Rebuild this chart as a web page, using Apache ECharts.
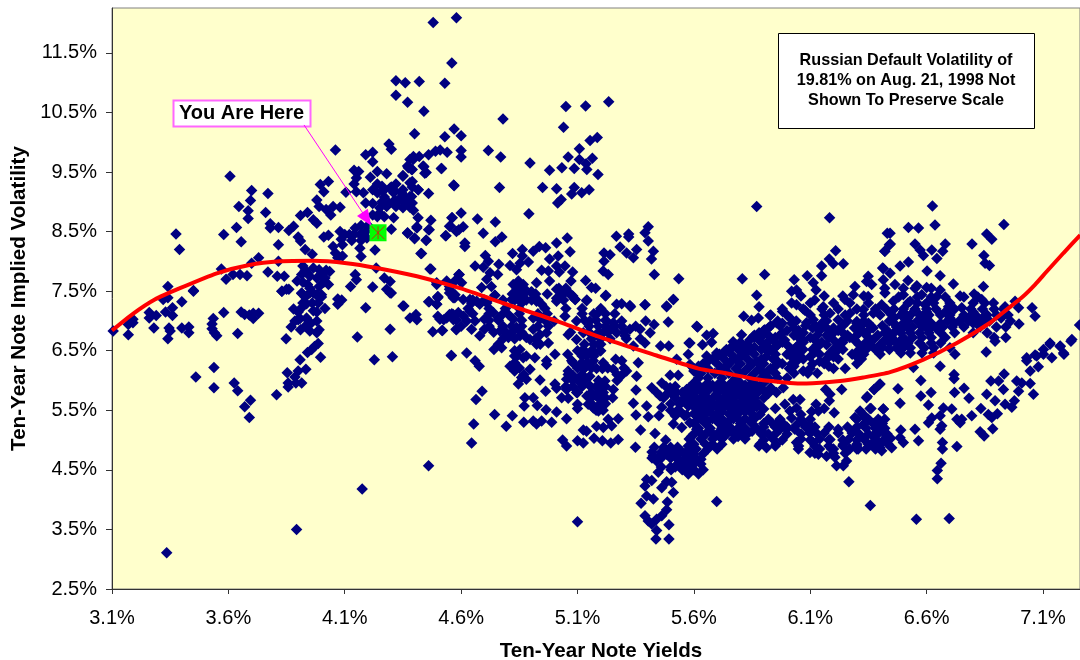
<!DOCTYPE html>
<html>
<head>
<meta charset="utf-8">
<style>
  html, body { margin: 0; padding: 0; background: #fff; }
  #main { width: 1080px; height: 660px; }
</style>
</head>
<body>
<div id="main"></div>
<script src="https://cdn.jsdelivr.net/npm/echarts@6/dist/echarts.min.js"></script>
<script>
// [yield %, implied vol %], grouped by region
const lowYieldPoints = [
[3.105,6.83],[3.17,6.77],[3.17,6.94],[3.19,6.97],[3.19,7.03],[3.26,7.14],[3.29,7.09],[3.26,7.05],[3.28,6.88],[3.32,7.36],[3.34,7.39],[3.33,7.15],[3.36,7.22],[3.36,7.09],[3.40,7.32],[3.345,6.88],[3.35,6.83],[3.34,6.7],[3.40,6.88],[3.43,6.9],[3.43,6.8],[3.45,7.5],
[3.58,7.14],[3.535,7.04],[3.53,6.95],[3.53,6.87],[3.54,6.8],[3.55,6.75],[3.64,6.79],[3.655,7.15],[3.67,7.11],[3.707,7.13],[3.707,7.04],[3.73,7.13],[3.69,7.1],
[3.538,6.22],[3.46,6.06],[3.538,5.88],[3.625,5.96],[3.64,5.83],[3.695,5.67],[3.67,5.56],[3.69,5.38],
[3.807,5.76],[3.848,6.7],[3.87,6.9],[3.886,7.0],[3.908,7.04],[3.88,7.2],[3.915,7.22],[3.936,7.29],[3.965,7.17],[4.015,7.21],[3.936,7.05],[3.98,7.0],[3.93,6.91],[3.95,6.94],[3.95,6.83],[3.98,6.8],[3.94,6.47],[3.958,6.52],[3.97,6.57],[3.986,6.62],[3.996,6.39],[3.908,6.35],[3.933,6.19],[3.90,6.16],[3.853,6.13],[3.886,6.06],[3.857,5.96],[3.857,5.89],[3.89,5.96],[3.915,5.96],
[3.83,7.5],[3.85,7.53],[3.915,7.46],[3.95,7.47],[3.98,7.44],[4.0,7.44],[3.986,7.3],[4.07,7.37],[4.087,7.35],[4.07,7.28],[4.19,7.22],[4.154,6.73],[4.35,7.25],[4.295,7.47],[4.46,7.32],[4.5,7.4],[4.495,7.28],[4.38,7.05],[4.406,7.11],[4.41,7.02],[4.295,6.86],[4.305,6.4],[4.227,6.35],[4.478,6.82],[4.518,6.84],[4.58,6.85],[4.558,6.42],[4.5,7.08],[4.525,7.02],[4.55,7.11],[4.567,7.02],[4.588,7.14],[4.574,7.44],[4.55,7.47],
[4.46,4.57],[4.175,4.18],[3.893,3.5],[3.335,3.11]
];
const upperLeftPoints = [
[4.48,12.01],[4.58,12.09],[4.56,11.33],[4.32,11.03],[4.36,11.0],[4.42,11.02],[4.53,10.99],[4.32,10.79],[4.37,10.67],[4.44,10.52],[4.40,10.14],[4.53,10.09],[4.57,10.22],[4.6,10.11],[4.06,9.87],[4.29,9.97],[4.30,9.88],[4.22,9.83],[4.19,9.79],[4.22,9.67],
[4.395,9.76],[4.38,9.71],[4.42,9.76],[4.46,9.79],[4.49,9.85],[4.51,9.87],[4.54,9.83],[4.37,9.6],[4.39,9.54],[4.44,9.59],[4.45,9.49],[4.515,9.56],[4.57,9.27],[4.46,9.14],
[4.14,9.53],[4.16,9.51],[4.24,9.51],[4.21,9.41],[4.28,9.47],[4.15,9.4],[4.35,9.44],[4.14,9.3],[4.105,9.16],[4.15,9.17],[4.18,9.15],
[3.607,9.43],[3.70,9.19],[3.77,9.14],[3.695,9.02],[3.645,8.92],[3.685,8.85],[3.76,8.82],[3.685,8.72],[3.995,9.29],[4.03,9.34],[4.01,9.17],[3.98,9.03],[3.99,8.92],
[4.02,8.87],[4.05,8.92],[4.08,8.91],[4.04,8.78],[3.91,8.77],[3.94,8.82],[3.965,8.7],[3.98,8.64],
[3.78,8.63],[3.78,8.56],[3.815,8.57],[3.88,8.59],[3.86,8.52],[3.635,8.57],[3.58,8.45],[3.375,8.46],[3.39,8.2],[3.655,8.33],
[3.815,8.28],[3.90,8.41],[3.91,8.34],[4.01,8.41],[4.03,8.44],[4.08,8.5],[4.10,8.45],[4.085,8.37],[4.145,8.56],[4.165,8.45],[4.19,8.5],[4.195,8.39],[4.09,8.28],[4.165,8.22],[4.17,8.08],
[4.23,8.19],[4.30,8.54],[4.37,8.48],[4.40,8.39],[4.45,8.35],[4.41,8.56],[4.46,8.53],[4.415,8.73],[4.47,8.69],[4.535,8.43],[4.55,8.59],[4.56,8.73],[4.59,8.53],
[4.43,8.13],[4.47,7.87],[3.93,8.2],[3.96,8.12],[4.05,8.25],[4.06,8.14],[4.09,8.09],[4.07,8.06],
[3.73,8.06],[3.70,7.97],[3.815,8.0],[3.57,7.87],[3.59,7.7],[3.62,7.78],[3.65,7.78],[3.68,7.76],[3.77,7.82],[3.81,7.75],[3.84,7.75],[3.34,7.58],[3.45,7.51],
[3.92,7.92],[3.965,7.89],[3.94,7.8],[3.915,7.78],[3.99,7.86],[4.035,7.83],[3.98,7.72],[4.015,7.72],[3.895,7.67],[3.94,7.61],[3.99,7.58],[4.03,7.61],[3.915,7.47],[3.965,7.47],[3.985,7.41],
[4.145,7.78],[4.15,7.69],[4.125,7.58],[4.22,7.57],[4.235,7.89],[4.27,7.72],[4.295,7.66],[4.28,7.53],[4.30,7.47],[3.83,7.5],[3.86,7.53],[4.50,7.41],[4.495,7.64],[4.55,7.58],[4.59,7.78],
[4.22,9.2],[4.26,9.26],[4.295,9.23],[4.265,9.18],[4.315,9.18],[4.35,9.2],[4.39,9.34],[4.415,9.2],[4.38,9.09],[4.345,9.09],[4.315,9.03],[4.33,9.0],[4.19,8.98],[4.22,8.97],[4.26,9.0],[4.28,8.92],[4.32,8.92],[4.36,9.0],[4.38,8.91],[4.395,8.86],[4.22,8.78],[4.25,8.81],[4.31,8.73],
[4.344,9.15],[4.38,9.32],[4.416,9.2],[4.387,9.09],[4.358,9.01],[4.35,9.43],[4.394,9.71],[4.373,9.57],[4.437,9.6],[4.444,9.48],[4.387,9.54]
];
const midUpperPoints = [
[4.78,10.39],[5.05,10.6],[5.135,10.61],[5.234,10.68],[5.04,10.25],[5.154,10.03],[5.185,10.08],[5.108,9.89],[5.06,9.75],[5.108,9.71],[5.164,9.73],[5.137,9.64],[5.14,9.54],[5.086,9.56],[5.033,9.57],[4.98,9.53],[5.188,9.46],[4.896,9.65],
[4.717,9.86],[4.77,9.75],[4.6,9.86],[4.6,9.75],[4.516,9.56],[4.568,9.28],[4.765,9.24],[4.95,9.24],[5.01,9.22],[5.086,9.24],[5.075,9.13],[5.118,9.15],[5.15,9.2],[5.03,9.04],[5.015,8.98],
[4.891,8.8],[4.6,8.81],[4.562,8.73],[4.67,8.71],[4.747,8.66],[4.41,8.58],[4.463,8.53],[4.555,8.59],[4.609,8.58],[4.58,8.5],[4.533,8.43],[4.695,8.47],[4.775,8.41],[4.747,8.33],[4.616,8.31],[4.616,8.25],[4.37,8.47],[4.40,8.38],[4.45,8.36],[4.427,8.13],[4.466,7.87],
[5.056,8.39],[5.01,8.31],[5.267,8.42],[5.32,8.46],[5.32,8.41],[5.404,8.58],[5.39,8.48],[5.404,8.34],[5.283,8.24],[5.311,8.14],[5.354,8.2],[5.34,8.06],[5.426,8.17],[5.418,8.04],[5.214,8.14],[5.24,8.11],[5.214,8.0],[5.21,7.84],[5.232,7.78],[5.43,7.78],[5.535,7.71],
[4.704,8.1],[4.717,8.0],[4.66,7.92],[4.695,7.9],[4.762,7.95],[4.821,8.13],[4.863,8.2],[4.863,8.09],[4.91,8.17],[4.936,8.25],[4.963,8.23],[5.068,8.16],[5.017,8.09],[4.98,8.04],[4.889,7.99],[4.853,7.97],[4.81,7.93],[4.838,7.86],[5.01,7.92],[5.046,7.92],[4.946,7.85],[4.975,7.84],[5.022,7.82],[5.079,7.82],[5.072,7.67],[4.98,7.67],[4.924,7.64],[5.135,7.68],[5.16,7.56],[5.178,7.55],[5.222,7.43],[5.139,7.34],[5.01,7.53],[5.04,7.5],[4.903,7.49],[5.075,7.42],[5.09,7.36],[5.01,7.38],
[4.824,7.61],[4.846,7.67],[4.867,7.61],[4.846,7.56],[4.86,7.47],[4.86,7.33],[4.817,7.36],[4.745,7.43],[4.903,7.35],[4.946,7.28],
[4.724,7.81],[4.757,7.78],[4.71,7.7],[4.73,7.58],[4.592,7.78],[4.573,7.67],[4.538,7.67],[4.495,7.61],[4.602,7.64],[4.688,7.56],[4.55,7.53],[4.566,7.39],[4.5,7.39],[4.463,7.32],[4.495,7.28],[4.354,7.25],[4.609,7.36],[4.667,7.33],[4.645,7.3],[4.71,7.3],
[5.268,7.28],[5.325,7.26],[5.39,7.27],[5.512,7.36],[5.483,7.25]
];
const midLowerPoints = [
[4.566,7.44],[4.573,7.39],[4.638,7.36],[4.68,7.28],[4.745,7.43],[4.71,7.33],[4.853,7.42],[4.9,7.48],[4.924,7.33],[4.86,7.3],[5.01,7.33],[5.03,7.47],[5.08,7.42],[5.09,7.36],[5.14,7.35],[5.22,7.42],[5.29,7.29],[5.328,7.24],[5.39,7.27],[5.483,7.24],[5.512,7.36],
[4.566,7.11],[4.538,7.05],[4.509,7.03],[4.52,6.84],[4.578,6.86],[4.61,7.08],[4.638,7.16],[4.66,7.0],[4.624,7.0],[4.645,6.86],[4.70,7.03],[4.70,6.86],[4.68,6.75],[4.738,7.14],[4.76,7.05],[4.803,7.11],[4.824,7.03],[4.817,6.91],[4.767,6.83],[4.795,6.8],[4.838,6.89],[4.774,6.55],[4.741,6.52],[4.803,6.72],[4.88,6.72],[4.853,6.75],[4.896,6.69],[4.91,6.86],[4.939,6.77],[4.975,6.91],[4.967,6.8],[4.924,6.61],[4.975,6.63],[4.939,7.03],[4.91,7.05],[5.0,7.0],[5.046,7.08],[5.096,7.0],[5.153,7.0],[5.19,7.14],[5.225,7.0],[5.254,6.97],[5.29,7.0],[5.24,6.86],[5.21,6.8],[5.268,6.8],[5.325,6.86],[5.304,6.75],[5.06,6.77],[5.096,6.69],[5.125,6.8],[5.19,6.61],[5.175,6.47],[5.197,6.5],[5.168,6.33],[5.182,6.2],[5.122,6.51],[5.003,6.44],[5.058,6.44],[5.075,6.33],[5.118,6.3],[5.125,6.19],[5.06,6.16],[5.082,6.08],[5.053,6.02],[5.104,5.99],[5.153,6.07],[5.218,5.99],[5.207,6.2],[5.254,6.19],[5.264,6.355],[5.29,6.33],[5.311,6.16],[5.29,6.09],[5.354,6.07],[5.361,6.3],[5.34,6.58],[5.369,6.86],[5.412,6.8],[5.39,6.63],[5.457,6.58],[5.492,6.58],[5.579,6.63],[5.429,6.94],[5.393,7.0],[5.49,6.98],[5.612,6.91],[5.576,6.44],[5.526,6.355],[5.583,6.27],[5.612,6.13],[5.533,6.09],[5.498,6.09],
[4.558,6.42],[4.624,6.46],[4.66,6.33],[4.678,6.24],[4.81,6.24],[4.83,6.16],[4.86,6.05],[4.88,6.02],[4.846,5.94],[4.853,6.52],[4.83,6.41],[4.867,6.38],[4.896,6.19],[4.917,6.38],[4.967,6.33],[4.967,6.27],[4.939,6.01],[5.003,5.94],[5.01,5.87],[4.963,5.82],[4.91,5.71],[4.874,5.71],[4.871,5.57],[4.927,5.58],[4.965,5.51],[4.69,5.82],[4.664,5.68],[4.744,5.43],[4.82,5.41],[4.654,5.27],[4.794,5.23],[4.869,5.3],[4.91,5.32],[4.924,5.27],[4.946,5.32],[4.989,5.3],[5.01,5.47],[5.053,5.36],[4.645,4.95],
[5.032,5.71],[5.06,5.7],[5.053,5.85],[5.096,5.8],[5.1,5.6],[5.1,5.53],[5.146,5.6],[5.168,5.54],[5.19,5.49],[5.14,5.74],[5.153,5.91],[5.197,5.91],[5.211,5.8],[5.182,5.74],[5.197,5.6],[5.254,5.85],[5.251,5.71],[5.34,5.62],[5.351,5.84],[5.351,5.42],[5.397,5.57],[5.404,5.39],[5.371,5.17],[5.433,5.11],[5.479,5.0],[5.349,4.88],
[5.275,5.36],[5.232,5.35],[5.247,5.24],[5.211,5.21],[5.182,5.23],[5.125,5.17],[5.139,5.15],[5.171,5.03],[5.207,4.99],[5.1,4.99],[5.125,4.95],[5.243,4.95],[5.275,5.01],[5.036,5.0],[5.053,4.9],
[5.419,5.88],[5.462,5.96],[5.498,5.88],[5.455,5.74],[5.483,5.77],[5.526,5.8],[5.569,5.85],[5.598,5.74],[5.54,5.6],[5.576,5.57],[5.462,5.55],[5.54,5.49],[5.569,5.42],[5.512,5.27],[5.548,5.21],[5.583,5.29],[5.612,5.18],[5.612,5.4],
[5.426,4.74],[5.462,4.76],[5.483,4.76],[5.44,4.65],[5.447,4.46],[5.502,4.5],[5.512,4.79],[5.54,4.79],[5.576,4.9],[5.569,4.74],[5.598,4.74],[5.54,4.65],[5.562,4.57],[5.59,4.54],[5.576,4.43],[5.62,4.43],
[5.397,4.34],[5.419,4.32],[5.39,4.23],[5.483,4.3],[5.462,4.2],[5.505,4.29],[5.512,4.12],[5.397,4.06],[5.426,4.01],[5.373,3.94],[5.486,3.96],[5.483,3.83],[5.462,3.73],[5.44,3.67],[5.419,3.59],[5.39,3.73],[5.404,3.64],[5.493,3.58],[5.44,3.48],[5.437,3.34],[5.493,3.34],[5.1,3.63]
];
const centerPoints = [
[5.87,8.92],[6.183,8.73],[6.209,8.18],[6.182,8.04],[6.199,7.96],[6.242,7.96],[6.149,7.92],[6.149,7.76],[6.087,7.76],[5.904,7.78],[5.808,7.71],[6.031,7.69],[6.041,7.52],[6.02,7.5],[6.113,7.64],[6.125,7.52],[5.87,7.43],[5.88,7.24],[6.119,7.35],[6.041,7.27],[5.981,7.16],[5.814,7.08],[5.877,7.05],[5.848,7.01],[5.927,7.09],[6.013,7.05],[6.077,7.18],[6.156,7.24],[5.616,6.9],[5.655,6.76],[5.683,6.79],[5.805,6.77],[5.637,6.6],[5.676,6.64],[5.769,6.65],[5.583,6.63],[5.855,6.74],[5.905,6.85],[5.891,6.74],[5.92,6.66],[5.819,6.57],[5.755,6.52],[5.698,6.46],[5.726,6.43],[5.655,6.41],
[6.292,7.58],[6.249,7.36],[6.285,7.44],[6.349,7.41],[6.349,7.75],[6.364,7.61],[6.411,7.89],[6.421,8.17],[6.431,8.47],[6.44,8.28],[6.342,7.66],
[5.955,6.97],[6.084,6.97],[6.113,7.02],[6.185,7.13],[6.22,7.02],[6.271,7.13],[6.3,6.99],[6.328,7.19],[6.371,7.13],[6.407,7.27],[6.428,7.19]
];
const lowerCenterPoints = [
[5.698,3.97],[6.358,3.9],[6.266,4.3],[6.235,5.85],[6.166,5.85],[6.185,5.77],[6.182,5.66],[6.342,5.71],[6.375,5.85],[6.4,5.94],[6.414,5.52],[6.361,5.53],[6.203,5.46],[6.125,5.6],[6.106,5.48],[6.135,5.49],[6.16,5.53],[6.056,5.68],[5.991,5.6],[6.027,5.68],[6.041,5.54],[6.013,5.49],[6.06,5.43],[5.95,5.53],[6.02,5.37],[5.884,5.43],[5.901,5.71],[5.955,5.8],[5.984,5.88],[5.934,5.29],[5.958,5.28],[6.077,5.26],[5.998,5.18],[6.034,5.18],[5.97,5.18],[5.92,5.1],[5.884,4.93],[5.912,4.87],[5.953,4.93],[6.099,5.12],[6.127,5.12],[6.041,4.96],[6.049,4.85],[6.113,4.96],[6.099,4.79],[6.135,4.76],[6.17,4.73],[6.192,4.85],[6.185,5.01],[6.22,5.18],[6.242,4.93],[6.264,5.01],[6.213,4.57],[6.242,4.57],[6.256,4.65],[6.206,4.71],[6.306,4.85],[6.285,5.15],[6.292,5.38],[6.314,5.49],[6.335,5.38],[6.328,5.26],[6.392,5.35],[6.385,5.21],[6.414,5.15],[6.371,5.07],[6.428,5.07],[6.364,4.93],[6.4,4.87],[6.435,4.93]
];
const highYieldPoints = [
[6.625,8.93],[6.636,8.61],[6.522,8.57],[6.565,8.56],[6.443,8.47],[6.444,8.29],[6.42,8.17],[6.932,8.62],[6.858,8.46],[6.88,8.37],[6.795,8.29],[6.68,8.29],[6.55,8.29],[6.572,8.19],[6.622,8.19],[6.586,8.1],[6.669,8.17],[6.644,8.05],[6.846,8.1],[6.851,7.97],[6.87,7.93],[6.522,7.99],[6.486,7.92],[6.414,7.88],[6.602,7.84],[6.658,7.76],[6.443,7.8],[6.52,7.68],[6.715,7.62],[6.558,7.59],[6.6,7.56],[6.844,7.58],[6.658,7.52],[6.644,7.41],[6.579,7.44],[6.5,7.44],[6.464,7.61],[6.414,7.69],[6.744,7.42],[6.804,7.45],[6.529,7.33],[6.593,7.27],[6.457,7.33],[6.421,7.47],[6.694,7.24],[6.751,7.22],[6.837,7.36],[6.887,7.3],[6.937,7.24],[6.98,7.33],[6.995,7.22],[7.053,7.22],[7.066,7.08],[6.997,6.95],
[7.13,6.63],[7.174,6.57],[7.224,6.69],[7.188,6.46],[7.102,6.52],[7.066,6.43],[7.03,6.38],[7.257,6.93],
[6.556,3.67],[6.697,3.685],[6.646,4.35],[6.646,4.49],[6.662,4.61],[6.668,4.85],[6.668,4.96],[6.73,4.89],[6.565,4.99],[6.5,4.96],[6.45,4.87],[6.407,4.82],[6.489,5.17],[6.486,5.04],[6.55,5.18],[6.608,5.29],[6.622,5.37],[6.658,5.41],[6.672,5.54],[6.708,5.52],[6.665,5.24],[6.658,5.18],[6.73,5.35],[6.751,5.35],[6.744,5.29],[6.794,5.41],[6.83,5.14],[6.847,5.07],[6.884,5.19],[6.833,5.53],[6.865,5.43],[6.88,5.38],[6.904,5.44],[6.894,5.66],[6.937,5.6],[6.966,5.55],[6.977,5.66],[6.782,5.7],[6.761,5.87],[6.72,5.8],[6.718,6.1],[6.718,6.03],[6.619,5.8],[6.575,6.0],[6.575,5.74],[6.608,5.59],[6.486,5.62],[6.477,5.86],[6.396,5.93],[6.374,5.85],[6.345,5.73],[6.414,5.52],[6.357,5.53],[6.328,5.43],[6.4,5.32],[6.386,5.18],[6.414,5.18],[6.371,5.07],[6.446,5.03],
[6.876,5.99],[6.909,5.99],[6.933,6.11],[6.93,5.85],[6.858,5.77],[6.987,5.99],[7.009,5.96],[6.995,5.82],[7.045,5.95],[7.059,5.77],[7.045,6.16],[7.03,6.33],[7.08,6.23],[7.073,6.41],[7.102,6.44],[7.13,6.61],[7.138,6.38],[7.19,6.44],[7.174,6.58],[7.22,6.66],[6.856,6.48],[6.722,6.44],[6.658,6.24],[6.543,6.22],[6.894,6.66]
];
// the crowded blobs, read row by row: [vol, yields on that row]
const crowdedRows = [
[7.0,[5.96,6.04,6.17,6.26,6.33,6.44,6.52,6.56,6.6,6.69,6.74,6.78,6.82,6.87,6.96]],
[6.92,[5.93,5.97,6.08,6.12,6.16,6.24,6.32,6.36,6.41]],
[6.84,[5.9,6.0,6.05,6.14,6.18,6.22,6.31,6.35,6.43]],
[6.76,[5.86,5.92,5.97,6.03,6.13,6.17,6.26,6.3,6.39,6.44]],
[6.68,[5.84,5.88,5.94,5.99,6.07,6.12,6.2,6.24,6.29,6.37,6.42,6.46]],
[6.6,[5.78,5.83,5.91,5.96,6.0,6.05,6.13,6.17,6.22,6.31,6.36,6.4]],
[6.52,[5.74,5.79,5.84,5.89,5.93,6.02,6.07,6.11,6.2,6.24,6.34,6.38,6.44]],
[6.44,[5.71,5.76,5.81,5.86,5.95,6.0,6.05,6.14,6.18,6.28,6.33,6.4]],
[6.36,[5.68,5.73,5.78,5.83,5.89,5.94,6.03,6.07,6.17,6.22,6.32]],
[6.28,[5.64,5.7,5.75,5.8,5.85,5.9,5.98,6.02,6.11,6.16,6.3]],
[6.2,[5.6,5.66,5.72,5.78,5.83,5.88,5.93,6.01,6.1,6.2,6.25]],
[6.12,[5.63,5.69,5.75,5.8,5.86,5.9,5.95,6.03,6.09,6.13]],
[6.04,[5.62,5.66,5.72,5.78,5.84,5.89,5.92,5.96,6.0]],
[5.96,[5.6,5.66,5.71,5.76,5.8,5.85,5.9]],
[5.88,[5.58,5.64,5.69,5.74,5.79,5.83,5.88,5.93]],
[5.78,[5.6,5.64,5.7,5.74,5.79,5.83,5.87,5.92]],
[5.7,[5.58,5.63,5.68,5.73,5.77,5.82,5.86]],
[5.6,[5.6,5.65,5.7,5.74,5.79,5.84,5.88]],
[5.52,[5.62,5.66,5.71,5.76,5.8,5.85,5.9]],
[5.44,[5.6,5.65,5.7,5.75,5.79,5.85]],
[5.36,[5.63,5.68,5.72,5.77,5.82,5.86]],
[5.28,[5.6,5.65,5.71,5.74,5.8,5.85,5.9,6.37,6.41]],
[5.2,[5.62,5.67,5.72,5.76,5.79,5.82,5.87,6.34,6.38,6.42]],
[5.1,[5.6,5.65,5.7,5.74,5.78,5.83,5.89,5.95,6.0,6.06,6.31,6.35,6.39,6.43]],
[5.02,[5.58,5.63,5.68,5.72,5.77,5.82,5.94,6.06,6.14,6.33,6.38,6.42]],
[4.93,[5.6,5.65,5.68,5.72,6.3,6.35,6.4]],
[4.85,[5.58,5.61,5.66,5.7,6.14,6.2,6.27,6.3,6.34,6.38]],
[4.77,[5.57,5.6,5.64]],
[4.68,[5.53,5.56,5.58,5.61,5.63]],
[4.6,[5.53,5.55,5.58,5.6,5.63]],
[4.5,[5.55,5.57,5.6,5.64]],
[7.3,[6.52,6.56,6.6,6.63,6.7,6.8,6.85]],
[7.2,[6.46,6.5,6.55,6.6,6.64,6.72,6.79,6.84,6.89,6.93]],
[7.1,[6.45,6.49,6.53,6.57,6.61,6.66,6.7,6.76,6.81,6.86,6.9,6.95]],
[6.9,[6.47,6.5,6.54,6.58,6.62,6.67,6.71,6.76,6.83,6.9,6.94]],
[6.8,[6.46,6.49,6.53,6.57,6.61,6.66,6.72,6.8,6.86]],
[6.72,[6.45,6.5,6.54,6.58,6.62,6.68,6.89,6.94]],
[6.63,[6.44,6.48,6.52,6.57,6.62,6.66]],
[6.55,[6.47,6.5,6.53,6.59,6.63,6.7]],
[6.46,[6.49,6.53,6.58,6.63]],
[7.85,[3.93,4.02]],[7.75,[3.95,4.0]],[7.65,[3.92,4.01]],[7.55,[3.95,4.84,4.87,5.02,5.05]],
[7.4,[3.93,4.0]],[7.3,[3.92,3.96]],[7.15,[3.9,3.98]],[7.02,[3.9,3.94]],[6.85,[3.91,3.99]],
[9.3,[4.24,4.32]],[9.25,[4.3,4.39]],[9.15,[4.24,4.31]],[9.08,[4.27,4.36]],[8.98,[4.29,4.39]],[8.9,[4.25,4.35]],[8.75,[4.27,4.24]],[8.6,[4.2,4.17]],[8.45,[4.12,4.14,4.18]],[8.35,[4.13,4.17]],
[7.45,[4.82,4.87,4.92,4.97,5.04,5.07]],
[7.35,[4.65,4.7,4.78,4.83,4.88,4.93,5.04]],
[7.21,[4.63,4.72,4.79,4.85,4.96,5.05,5.12,5.2]],
[7.12,[4.56,4.65,4.72,4.78,4.85,4.93,4.97,5.12,5.17,5.22,5.26]],
[7.01,[4.58,4.72,4.76,4.86,4.96,5.13,5.18,5.22]],
[6.91,[4.6,4.72,4.78,4.86,4.93,5.15,5.19,5.22,5.26,5.29,5.35]],
[6.81,[4.74,4.82,4.86,5.07,5.15,5.19,5.23,5.3]],
[6.7,[4.78,4.83,4.92,5.16,5.2,5.24,5.31,5.37]],
[6.61,[4.76,4.94,5.17,5.2,5.13]],
[6.5,[5.1,5.13,5.16,5.2,4.83]],
[6.41,[4.84,4.88,5.14,5.12,5.17]],
[6.3,[5.08,5.14,5.21,4.83]],
[6.21,[5.1,5.13,5.16,4.85,5.23,5.3]],
[6.1,[5.06,5.12,5.27,4.87]],
[6.0,[5.08,5.13,5.19,5.27]],
[5.9,[5.05,5.08,5.12,5.18,5.22,5.48,5.52]],
[5.8,[5.16,5.19,5.1,5.44,5.5,5.55,5.58]],
[5.71,[5.16,5.19,5.22,5.47,5.52,5.56]],
[5.61,[5.16,5.2,5.22,5.5,5.54,5.58]],
[5.5,[5.18,5.21,5.5,5.53]],
[5.41,[5.52,5.56,5.45]],
[5.25,[5.99,6.04,6.1]]
];
// second pass over the same blobs, rows that sit between the ones above
const crowdedRowsFill = [
[7.55,[6.42,6.5,6.55,6.62]],[7.4,[6.48,6.56,6.62,6.68,6.76,6.82]],[7.15,[6.5,6.6,6.68,6.8]],[7.05,[6.46,6.52,6.6,6.7,6.78,6.84,6.92]],
[7.42,[6.06,6.16,6.24,6.33]],[7.3,[6.02,6.1,6.2,6.27,6.35]],[7.2,[5.98,6.07,6.15,6.22,6.3,6.38]],[7.1,[5.93,6.0,6.1,6.16,6.25,6.33,6.4]],
[6.96,[5.98,6.02,6.15,6.3,6.35,6.46,6.5,6.58,6.62,6.66,6.72,6.8,6.85]],
[6.88,[5.92,6.03,6.11,6.2,6.29,6.37,6.52,6.6,6.64]],
[6.8,[5.88,5.98,6.07,6.2,6.24,6.33,6.42]],
[6.72,[5.86,5.95,6.05,6.1,6.18,6.27,6.35,6.44]],
[6.64,[5.8,5.89,5.98,6.07,6.15,6.24,6.34]],
[6.56,[5.76,5.86,5.95,6.04,6.13,6.22,6.32,6.41]],
[6.48,[5.73,5.83,5.92,6.03,6.12,6.21,6.3]],
[6.4,[5.7,5.8,5.91,6.02,6.1,6.2,6.3]],
[6.32,[5.66,5.76,5.87,5.96,6.04,6.14]],
[6.24,[5.62,5.74,5.84,5.95,6.03,6.18]],
[6.16,[5.6,5.71,5.82,5.92,6.07]],
[5.92,[5.62,5.68,5.73,5.78,5.82,5.87]],[5.83,[5.61,5.66,5.71,5.76,5.81,5.85,5.9]],[5.74,[5.6,5.65,5.7,5.75,5.8,5.84]],[5.65,[5.62,5.67,5.72,5.77,5.81,5.86]],[5.56,[5.6,5.64,5.68,5.73,5.78,5.83,5.87]],[5.48,[5.62,5.67,5.72,5.77,5.82]],[5.32,[5.61,5.66,5.7,5.75,5.8,5.84]],[5.15,[5.62,5.67,5.72,5.76,5.81,5.85]],[5.06,[5.59,5.64,5.69,5.73,5.79]],
[4.88,[5.43,5.47,5.5,5.53]],[4.8,[5.42,5.46,5.49,5.52,5.55]],[4.7,[5.42,5.46,5.5]],[4.55,[5.46,5.5,5.52]],
[5.35,[5.92,5.97,6.06,6.1,6.3,6.35,6.42]],[5.22,[5.9,5.95,6.0,6.08,6.12,6.18,6.26,6.3]],[5.12,[5.9,6.1,6.16,6.22,6.28]],[5.0,[5.9,5.98,6.1,6.18,6.24,6.3]],[4.9,[5.88,5.95,6.05,6.12,6.18,6.24,6.3]],[4.78,[6.12,6.2,6.25]]
];
const trendLine = [
[3.1,6.84],[3.19,7.12],[3.284,7.36],[3.392,7.55],[3.55,7.8],[3.69,7.94],[3.82,8.0],[3.965,8.01],[4.108,7.97],[4.237,7.89],[4.41,7.75],[4.595,7.55],[4.795,7.28],[5.01,7.0],[5.225,6.69],[5.44,6.42],[5.62,6.2],[5.726,6.13],[5.87,6.02],[6.013,5.96],[6.084,5.95],[6.228,5.99],[6.328,6.05],[6.443,6.14],[6.586,6.35],[6.73,6.63],[6.873,6.97],[6.944,7.19],[7.014,7.41],[7.066,7.61],[7.116,7.83],[7.188,8.14],[7.26,8.44]
];
const youAreHere = [[4.243, 8.48]];
const arrowStart = [3.925, 10.29];
const arrowEnd = [4.195, 8.71];
const xTicks = [3.1, 3.6, 4.1, 4.6, 5.1, 5.6, 6.1, 6.6, 7.1];
const yTicks = [2.5, 3.5, 4.5, 5.5, 6.5, 7.5, 8.5, 9.5, 10.5, 11.5];
const noteLines = ["Russian Default Volatility of", "19.81% on Aug. 21, 1998 Not", "Shown To Preserve Scale"];

const crowdedPoints = crowdedRows.concat(crowdedRowsFill).flatMap((row) => row[1].map((y) => [y, row[0]]));
const allPoints = [].concat(lowYieldPoints, upperLeftPoints, midUpperPoints, midLowerPoints, centerPoints, lowerCenterPoints, highYieldPoints, crowdedPoints);
const fontName = '"Liberation Sans", Arial, sans-serif';

const myChart = echarts.init(document.getElementById("main"));
const pct = (v) => v.toFixed(1) + "%";

const option = {
  animation: false,
  backgroundColor: "#fff",
  textStyle: { fontFamily: fontName },
  grid: {
    left: 112, right: 0, top: 8, bottom: 71,
    outerBoundsMode: "none",
    show: true,
    backgroundColor: "#FFFFCC",
    borderColor: "#808080",
    borderWidth: 1,
  },
  xAxis: {
    type: "value",
    min: 3.1,
    max: 7.259,
    name: "Ten-Year Note Yields",
    nameLocation: "middle",
    nameGap: 52,
    nameTextStyle: { fontFamily: fontName, fontSize: 20.6, fontWeight: "bold", color: "#000", padding: [0, 0, 0, 10] },
    axisLine: { onZero: false, lineStyle: { color: "#333", width: 1 } },
    axisTick: { length: 5, customValues: xTicks, lineStyle: { color: "#333" } },
    axisLabel: { customValues: xTicks, formatter: pct, margin: 19, fontFamily: fontName, fontSize: 20, color: "#000", hideOverlap: false },
    splitLine: { show: false },
  },
  yAxis: {
    type: "value",
    min: 2.5,
    max: 12.253,
    name: "Ten-Year Note Implied Volatility",
    nameLocation: "middle",
    nameGap: 81,
    nameTextStyle: { fontFamily: fontName, fontSize: 20.6, fontWeight: "bold", color: "#000" },
    axisLine: { show: true, onZero: false, lineStyle: { color: "#333", width: 1 } },
    axisTick: { show: true, length: 6, customValues: yTicks, lineStyle: { color: "#333" } },
    axisLabel: { customValues: yTicks, formatter: pct, margin: 15, fontFamily: fontName, fontSize: 20, color: "#000", hideOverlap: false },
    splitLine: { show: false },
  },
  series: [
    {
      name: "Volatility",
      type: "scatter",
      symbol: "diamond",
      symbolSize: 11.5,
      large: false,
      itemStyle: { color: "#000080", opacity: 1 },
      data: allPoints,
      z: 2,
    },
    {
      name: "Trend",
      type: "line",
      smooth: 0.2,
      showSymbol: false,
      symbol: "none",
      lineStyle: { color: "#FF0000", width: 4 },
      data: trendLine,
      z: 3,
    },
    {
      name: "You Are Here",
      type: "scatter",
      symbol: "rect",
      symbolSize: 17,
      itemStyle: { color: "#00FF00", opacity: 1 },
      data: youAreHere,
      z: 4,
      markLine: {
        silent: true,
        animation: false,
        symbol: ["none", "triangle"],
        symbolSize: [13, 16],
        label: { show: false },
        lineStyle: { color: "#FF00FF", width: 1, type: "solid" },
        data: [[{ coord: arrowStart }, { coord: arrowEnd }]],
      },
    },
    {
      name: "Here cross",
      type: "scatter",
      symbol: "path://M0 0L10 10M10 0L0 10M5 0L5 10",
      symbolSize: 13,
      itemStyle: { color: "none", borderColor: "#E01010", borderWidth: 1 },
      data: youAreHere,
      z: 5,
    },
  ],
  graphic: [
    {
      type: "group",
      z: 10,
      children: [
        { type: "rect", shape: { x: 173.5, y: 100.5, width: 137, height: 26 }, style: { fill: "#fff", stroke: "#FF66FF", lineWidth: 2 } },
        { type: "text", x: 241.5, y: 113.5, style: { text: "You Are Here", fill: "#000", font: 'bold 20px ' + fontName, textAlign: "center", textVerticalAlign: "middle" } },
        { type: "rect", shape: { x: 778.5, y: 33.5, width: 256, height: 95 }, style: { fill: "#fff", stroke: "#000", lineWidth: 1 } },
        { type: "text", x: 906, y: 81, style: { text: noteLines.join("\n"), fill: "#000", font: 'bold 16.2px ' + fontName, lineHeight: 20, textAlign: "center", textVerticalAlign: "middle" } },
      ],
    },
  ],
};

myChart.setOption(option, true);
</script>
</body>
</html>
